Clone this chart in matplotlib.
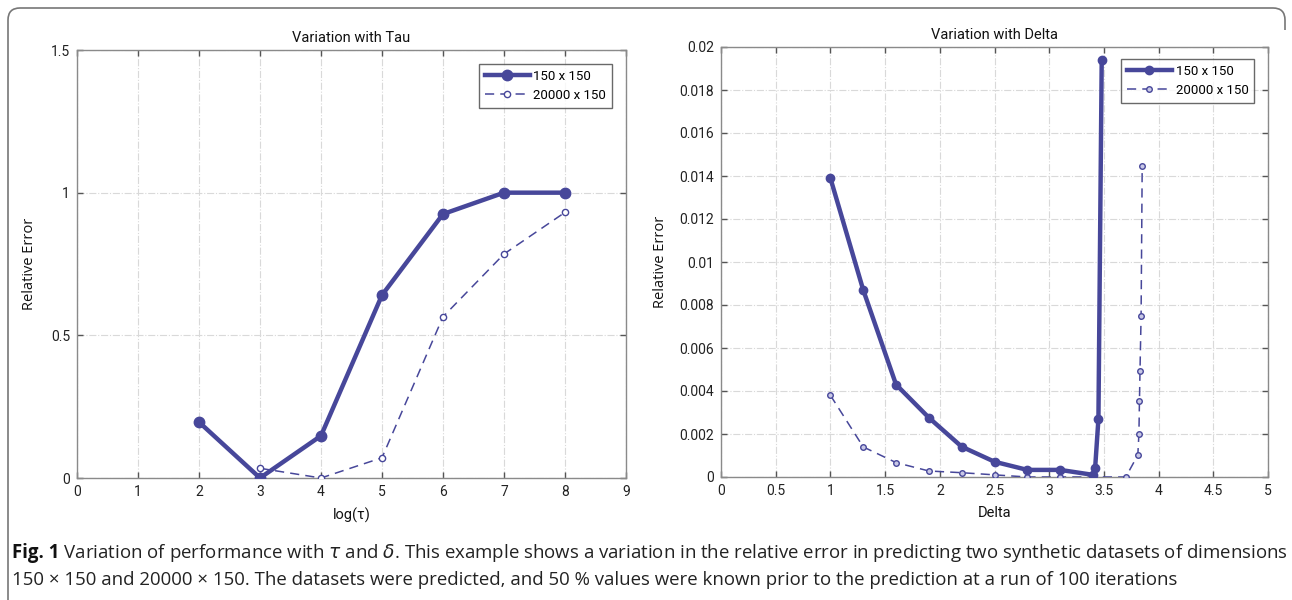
import matplotlib
matplotlib.use("Agg")
import matplotlib.pyplot as plt
from matplotlib.path import Path
from matplotlib.patches import PathPatch
from matplotlib import font_manager

# ---------------- data ----------------
tau_x_150 = [2, 3, 4, 5, 6, 7, 8]
tau_y_150 = [0.196, 0.0, 0.148, 0.641, 0.925, 1.0, 1.0]
tau_x_20000 = [3, 4, 5, 6, 7, 8]
tau_y_20000 = [0.034, 0.0, 0.071, 0.565, 0.785, 0.931]

delta_x_150 = [1.0, 1.3, 1.6, 1.9, 2.2, 2.5, 2.8, 3.1, 3.4, 3.42, 3.45, 3.48]
delta_y_150 = [0.0139, 0.0087, 0.0043, 0.00276, 0.00141, 0.00071, 0.00033,
               0.00033, 0.0001, 0.00043, 0.0027, 0.0194]
delta_x_20000 = [1.0, 1.3, 1.6, 1.9, 2.2, 2.5, 2.8, 3.1, 3.4, 3.7,
                 3.81, 3.82, 3.825, 3.83, 3.84, 3.85]
delta_y_20000 = [0.0038, 0.0014, 0.00067, 0.00028, 0.0002, 0.0001, 0.0, 0.0,
                 0.0, 0.0, 0.00102, 0.00199, 0.00353, 0.00494, 0.0075, 0.01447]

series_labels = ["150 x 150", "20000 x 150"]

tau_xticks = [0, 1, 2, 3, 4, 5, 6, 7, 8, 9]
tau_yticks = [0, 0.5, 1, 1.5]
tau_yticklabels = ["0", "0.5", "1", "1.5"]
delta_xticks = [0, 0.5, 1, 1.5, 2, 2.5, 3, 3.5, 4, 4.5, 5]
delta_xticklabels = ["0", "0.5", "1", "1.5", "2", "2.5", "3", "3.5", "4", "4.5", "5"]
delta_yticks = [0, 0.002, 0.004, 0.006, 0.008, 0.01, 0.012, 0.014, 0.016, 0.018, 0.02]
delta_yticklabels = ["0", "0.002", "0.004", "0.006", "0.008", "0.01", "0.012",
                     "0.014", "0.016", "0.018", "0.02"]

caption_bold = "Fig. 1"
caption_line1 = (" Variation of performance with $\\tau$ and $\\delta$. This example shows a variation "
                 "in the relative error in predicting two synthetic datasets of dimensions")
caption_line2 = ("150 \u00d7 150 and 20000 \u00d7 150. The datasets were predicted, and 50 % values "
                 "were known prior to the prediction at a run of 100 iterations")

# ---------------- style ----------------
avail = {f.name for f in font_manager.fontManager.ttflist}
narrow = "Liberation Sans Narrow" if "Liberation Sans Narrow" in avail else "Roboto"
body = "Open Sans"
plt.rcParams['font.family'] = [narrow, 'DejaVu Sans']
plt.rcParams['mathtext.fontset'] = 'dejavusans'

LINE = '#47479a'
SPINE = '#8a8a8a'
GRID = '#d9d9d9'

W, H = 1292, 600
fig = plt.figure(figsize=(W / 100, H / 100), dpi=100)
fig.patch.set_facecolor('white')


def px_axes(x0, y0, x1, y1):
    return fig.add_axes([x0 / W, 1 - y1 / H, (x1 - x0) / W, (y1 - y0) / H])


def style_axes(ax):
    for s in ax.spines.values():
        s.set_color(SPINE)
        s.set_linewidth(1.0)
    ax.tick_params(direction='in', length=4, width=1, color='#555555',
                   top=True, right=True, labelsize=10, labelcolor='#222222', pad=5)
    ax.grid(True, color=GRID, linestyle='-.', linewidth=0.8)
    ax.set_axisbelow(True)


# left axes
ax1 = px_axes(77, 50, 626, 478)
ax1.plot(tau_x_150, tau_y_150, '-o', color=LINE, lw=3.2, ms=7.5, mfc=LINE, mec=LINE,
         label=series_labels[0], zorder=4)
ax1.plot(tau_x_20000, tau_y_20000, '--o', color=LINE, lw=1.1, ms=4.5, mfc='white',
         mec=LINE, mew=1.0, dashes=(6, 4), label=series_labels[1], zorder=3)
ax1.set_xlim(0, 9)
ax1.set_ylim(0, 1.5)
ax1.set_xticks(tau_xticks)
ax1.set_yticks(tau_yticks, tau_yticklabels)
style_axes(ax1)
ax1.set_title("Variation with Tau", fontsize=10.5, pad=6, color='#111111')
ax1.set_xlabel("log(\u03c4)", fontsize=10.5, labelpad=6, color='#111111')
ax1.set_ylabel("Relative Error", fontsize=10.5, labelpad=10, color='#111111',
               family=[body, 'DejaVu Sans'])
leg1 = ax1.legend(loc='upper right', bbox_to_anchor=(0.975, 0.968), fontsize=9.5,
                  frameon=True, fancybox=False, edgecolor='#444444', handlelength=3.4,
                  handletextpad=0.3, borderpad=0.45, labelspacing=0.45, borderaxespad=0)
leg1.get_frame().set_linewidth(1.0)

# right axes
ax2 = px_axes(721, 47, 1268, 477)
ax2.plot(delta_x_150, delta_y_150, '-o', color=LINE, lw=3.2, ms=6, mfc=LINE, mec=LINE,
         label=series_labels[0], zorder=4)
ax2.plot(delta_x_20000, delta_y_20000, '--o', color=LINE, lw=1.1, ms=4, mfc='#c8c8e6',
         mec=LINE, mew=1.0, dashes=(6, 4), label=series_labels[1], zorder=3)
ax2.set_xlim(0, 5)
ax2.set_ylim(0, 0.02)
ax2.set_xticks(delta_xticks, delta_xticklabels)
ax2.set_yticks(delta_yticks, delta_yticklabels)
style_axes(ax2)
ax2.set_title("Variation with Delta", fontsize=10.5, pad=6, color='#111111')
ax2.set_xlabel("Delta", fontsize=10.5, labelpad=6, color='#111111')
ax2.set_ylabel("Relative Error", fontsize=10.5, labelpad=8, color='#111111',
               family=[body, 'DejaVu Sans'])
leg2 = ax2.legend(loc='upper right', bbox_to_anchor=(0.975, 0.972), fontsize=9.5,
                  frameon=True, fancybox=False, edgecolor='#444444', handlelength=3.4,
                  handletextpad=0.3, borderpad=0.45, labelspacing=0.45, borderaxespad=0)
leg2.get_frame().set_linewidth(1.0)

# frame around figure (rounded top corners, open bottom)
r = 12
verts = [(8, 600), (8, 8 + r), (8, 8), (8 + r, 8), (1285 - r, 8), (1285, 8), (1285, 8 + r),
         (1285, 30)]
codes = [Path.MOVETO, Path.LINETO, Path.CURVE3, Path.CURVE3, Path.LINETO, Path.CURVE3,
         Path.CURVE3, Path.LINETO]
verts_fig = [(x / W, 1 - y / H) for x, y in verts]
fig.patches.append(PathPatch(Path(verts_fig, codes), transform=fig.transFigure,
                             fill=False, edgecolor='#777777', lw=1.2))

# caption
fs = 13.0
t_b = fig.text(12 / W, 1 - 553 / H, caption_bold, fontsize=fs, fontweight='bold',
               family=[body, 'DejaVu Sans'], va='center', ha='left', color='#111111')
fig.canvas.draw()
rend = fig.canvas.get_renderer()
bb = t_b.get_window_extent(rend)
t_1 = fig.text(bb.x1 / W, 1 - 553 / H, caption_line1, fontsize=fs,
               family=[body, 'DejaVu Sans'], va='center', ha='left', color='#222222')
t_2 = fig.text(12 / W, 1 - 580 / H, caption_line2, fontsize=fs,
               family=[body, 'DejaVu Sans'], va='center', ha='left', color='#222222')
fig.canvas.draw()
# fit first line width to the reference span
target = 1287 - 12
width = t_1.get_window_extent(rend).x1 - bb.x0
scale = target / width
nfs = fs * scale
for t in (t_b, t_1, t_2):
    t.set_fontsize(nfs)
fig.canvas.draw()
bb = t_b.get_window_extent(rend)
t_1.set_x(bb.x1 / W)

fig.savefig("out.png", dpi=100, facecolor='white')
